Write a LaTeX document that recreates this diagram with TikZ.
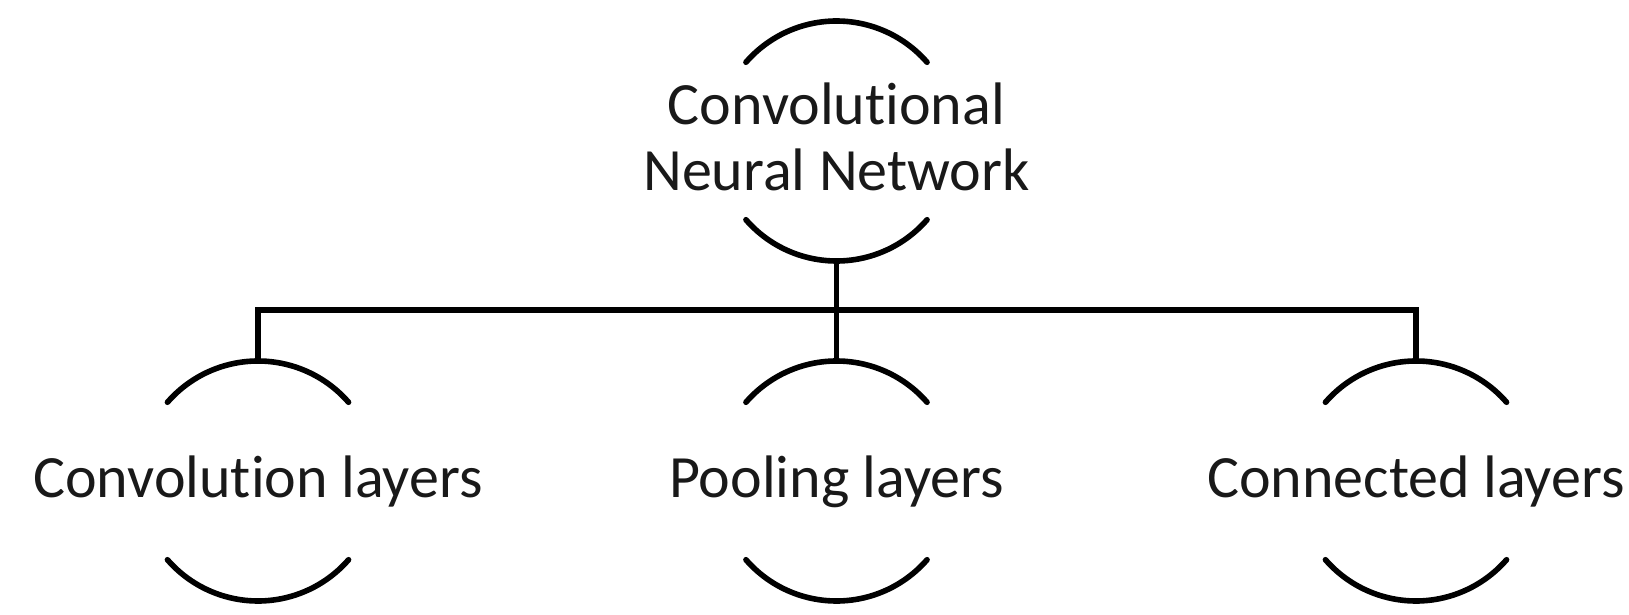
\documentclass[tikz,border=0pt]{standalone}
\usepackage{fontspec}
\setmainfont[Ligatures={NoCommon}]{Carlito}
\begin{document}
\begin{tikzpicture}[x=0.5pt,y=-0.5pt,
  ring/.style={circle, draw=none, minimum size=120pt, inner sep=0pt, outer sep=0pt},
  arcline/.style={line width=2.8pt, line cap=round},
  busline/.style={line width=2.8pt},
  lbl/.style={font=\fontsize{30}{33}\selectfont, inner sep=0pt, anchor=base, text=black!90}]
\useasboundingbox[fill=white] (0,0) rectangle (1629,615);
% rings
\node[ring] (cnn)  at (836.5,141) {};
\node[ring] (conv) at (258,481) {};
\node[ring] (pool) at (836.5,481) {};
\node[ring] (full) at (1416,481) {};
\foreach \n in {cnn,conv,pool,full}{
  \draw[arcline] (\n.41) arc[start angle=41, end angle=139, radius=60pt];
  \draw[arcline] (\n.221) arc[start angle=221, end angle=319, radius=60pt];
}
% labels
\node[lbl] (cnnta) at (836.5,125) {Convolutional};
\node[lbl] (cnntb) at (836.5,190.5) {Neural Network};
\node[lbl] (convt) at (258,497) {Convolution layers};
\node[lbl] (poolt) at (836.5,497) {Pooling layers};
\node[lbl] (fullt) at (1416,497) {Connected layers};
% connectors
\coordinate (bus) at (836.5,310);
\draw[busline] (cnn.south) -- (bus);
\draw[busline] (conv.north) |- (bus);
\draw[busline] (full.north) |- (bus);
\draw[busline] (pool.north) -- (bus);
\end{tikzpicture}
\end{document}
